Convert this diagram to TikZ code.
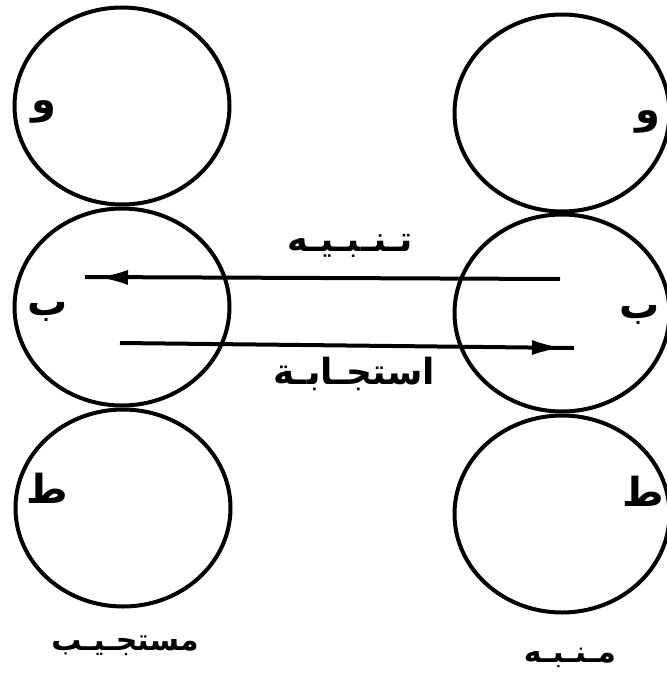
\documentclass[tikz,border=0pt]{standalone}
\usepackage{fontspec}
\newfontfamily\arabicfont[Script=Arabic]{DejaVu Sans Bold}
\TeXXeTstate=1
\usetikzlibrary{shapes.geometric,arrows.meta}
\begin{document}
\begin{tikzpicture}[x=1pt,y=-1pt,
  ring/.style={draw, ellipse, line width=4pt, minimum width=215pt, minimum height=197pt, inner sep=0pt},
  ar/.style={font=\arabicfont\fontsize{#1}{#1}\selectfont, inner sep=0pt},
  flow/.style={line width=4pt},
  head/.style={line width=1pt, -{Latex[length=28pt,width=15pt]}}
]
\useasboundingbox (0,0) rectangle (667,689);
\clip (0,0) rectangle (667,689);
% left column (respondent)
\node[ring] (lp) at (122,106) {};
\node[ring] (la) at (122,307) {};
\node[ring] (lc) at (123,508) {};
% right column (stimulator)
\node[ring] (rp) at (562,113) {};
\node[ring] (ra) at (562,313) {};
\node[ring] (rc) at (562,514) {};
% letters
\node[ar=40] (lpt) at (44,112) {\beginR و\endR};
\node[ar=40] (lat) at (48,312) {\beginR ب\endR};
\node[ar=40] (lct) at (47,488) {\beginR ط\endR};
\node[ar=40] (rpt) at (648,122) {\beginR و\endR};
\node[ar=40] (rat) at (640,315) {\beginR ب\endR};
\node[ar=40] (rct) at (643,491) {\beginR ط\endR};
% arrows
\coordinate (s1) at (560,279);
\coordinate (e1) at (85,277);
\coordinate (b1) at (140,277.5);
\coordinate (t1) at (100,277.3);
\draw[flow] (s1) -- (e1);
\draw[head] (b1) -- (t1);
\coordinate (s2) at (120,343);
\coordinate (e2) at (574,348);
\coordinate (b2) at (520,347.4);
\coordinate (t2) at (560,347.8);
\draw[flow] (s2) -- (e2);
\draw[head] (b2) -- (t2);
% arrow labels
\node[ar=35] (stim) at (350,246) {\beginR تـنـبـيـه\endR};
\node[ar=36] (resp) at (354,374) {\beginR استجـابـة\endR};
% column labels
\node[ar=30] (lname) at (125,646) {\beginR مستجـيـب\endR};
\node[ar=30] (rname) at (570,658) {\beginR مـنـبـه\endR};
\end{tikzpicture}
\end{document}
